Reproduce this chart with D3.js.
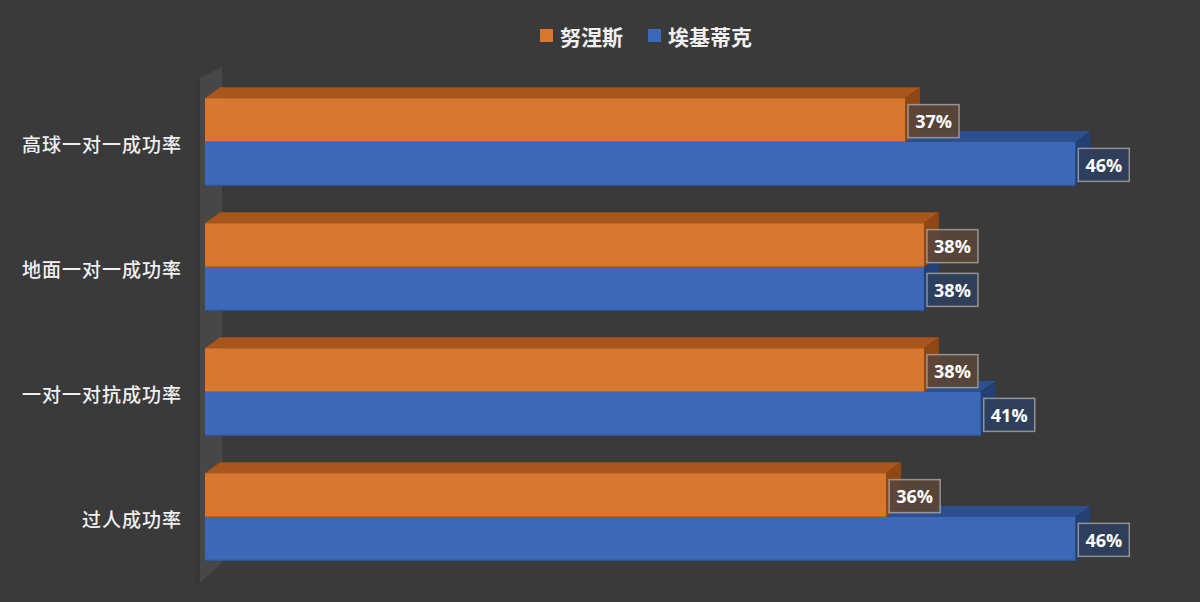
<!DOCTYPE html>
<html>
<head>
<meta charset="utf-8">
<script src="https://cdn.jsdelivr.net/npm/d3@7"></script>
<style>
  html, body { margin: 0; padding: 0; background: #3a3a3a; }
  svg { display: block; }
</style>
</head>
<body>
<svg id="chart" width="1200" height="602"></svg>
<script>
// data
const categories = ['高球一对一成功率', '地面一对一成功率', '一对一对抗成功率', '过人成功率']
const series = ['努涅斯', '埃基蒂克']
const nunez = [37, 38, 38, 36]
const ekitike = [46, 38, 41, 46]

const colors = {
  '努涅斯': { front: '#d8772f', top: '#a9561c', side: '#8f4714', edge: '#b8611f', box: '#5a4538' },
  '埃基蒂克': { front: '#3b68b7', top: '#2c4f8f', side: '#243f73', edge: '#2d5396', box: '#2f3f5c' }
}

const fontCJK = '"Noto Sans CJK SC", "Noto Sans", sans-serif'
const dx = 15, dy = -11   // bar depth

let svg = d3.select('#chart')

svg.append('rect')
  .attr('width', 1200)
  .attr('height', 602)
  .attr('fill', '#3a3a3a')

let x = d3.scaleLinear()
  .domain([0, 50])
  .range([205, 1151])

let y = d3.scaleBand()
  .domain(categories)
  .range([79.5, 579.5])
  .paddingInner(0.3)
  .paddingOuter(0.15)

let ys = d3.scaleBand()
  .domain(series)
  .range([0, y.bandwidth()])

// back wall (3d side wall on the left)
let x0 = x(0)
svg.append('path')
  .attr('d', `M${x0 - 5},78 L${x0 + 17},67 L${x0 + 17},563 L${x0 - 5},583 Z`)
  .attr('fill', '#474747')
svg.append('path')
  .attr('d', `M${x0 - 10},80 L${x0 - 5},78 L${x0 - 5},583 L${x0 - 10},585 Z`)
  .attr('fill', '#373737')

// rows: one entry per bar
let rows = []
categories.forEach((c, i) => {
  // blue first so the orange bar covers its top face
  rows.push({ cat: c, s: '埃基蒂克', v: ekitike[i] })
  rows.push({ cat: c, s: '努涅斯', v: nunez[i] })
})

let bars = svg.append('g').attr('class', 'bars')

rows.forEach((d) => {
  let col = colors[d.s]
  let left = x(0), right = x(d.v)
  let top = y(d.cat) + ys(d.s)
  let h = ys.bandwidth()
  let g = bars.append('g')

  // top face
  g.append('path')
    .attr('d', `M${left},${top} L${left + dx},${top + dy} L${right + dx},${top + dy} L${right},${top} Z`)
    .attr('fill', col.top)
  // side face
  g.append('path')
    .attr('d', `M${right},${top} L${right + dx},${top + dy} L${right + dx},${top + h + dy} L${right},${top + h} Z`)
    .attr('fill', col.side)
  // front face
  g.append('rect')
    .attr('x', left)
    .attr('y', top)
    .attr('width', right - left)
    .attr('height', h)
    .attr('fill', col.front)
  // thin darker bottom edge
  g.append('line')
    .attr('x1', left)
    .attr('x2', right)
    .attr('y1', top + h - 0.5)
    .attr('y2', top + h - 0.5)
    .attr('stroke', col.edge)
    .attr('stroke-width', 1)
})

// value labels
let labels = svg.append('g').attr('class', 'labels')
rows.forEach((d) => {
  let col = colors[d.s]
  let top = y(d.cat) + ys(d.s)
  let h = ys.bandwidth()
  let bx = x(d.v) + 3
  let bw = 51, bh = 33
  let by = top + (h - bh) / 2 + 1
  labels.append('rect')
    .attr('x', bx)
    .attr('y', by)
    .attr('width', bw)
    .attr('height', bh)
    .attr('fill', col.box)
    .attr('fill-opacity', 0.92)
    .attr('stroke', '#a9a9a9')
    .attr('stroke-opacity', 0.8)
    .attr('stroke-width', 1.5)
  labels.append('text')
    .attr('x', bx + bw / 2)
    .attr('y', by + bh / 2)
    .attr('text-anchor', 'middle')
    .attr('dominant-baseline', 'central')
    .attr('fill', '#ffffff')
    .attr('font-family', '"Open Sans", "DejaVu Sans", sans-serif')
    .attr('font-weight', 700)
    .attr('font-size', 18)
    .text(d.v + '%')
})

// category labels
svg.append('g')
  .selectAll('text')
  .data(categories)
  .join('text')
  .attr('x', 182)
  .attr('y', (d) => y(d) + y.bandwidth() / 2 + 1)
  .attr('text-anchor', 'end')
  .attr('dominant-baseline', 'central')
  .attr('fill', '#f0f0f0')
  .attr('font-family', fontCJK)
  .attr('font-weight', 500)
  .attr('font-size', 19)
  .attr('letter-spacing', 1)
  .text((d) => d)

// legend
let legend = svg.append('g').attr('class', 'legend')
let lx = [540, 648]
series.forEach((s, i) => {
  legend.append('rect')
    .attr('x', lx[i])
    .attr('y', 29)
    .attr('width', 13)
    .attr('height', 13)
    .attr('fill', colors[s].front)
  legend.append('text')
    .attr('x', lx[i] + 20)
    .attr('y', 36)
    .attr('dominant-baseline', 'central')
    .attr('fill', '#f0f0f0')
    .attr('font-family', fontCJK)
    .attr('font-weight', 700)
    .attr('font-size', 21)
    .text(s)
})
</script>
</body>
</html>
